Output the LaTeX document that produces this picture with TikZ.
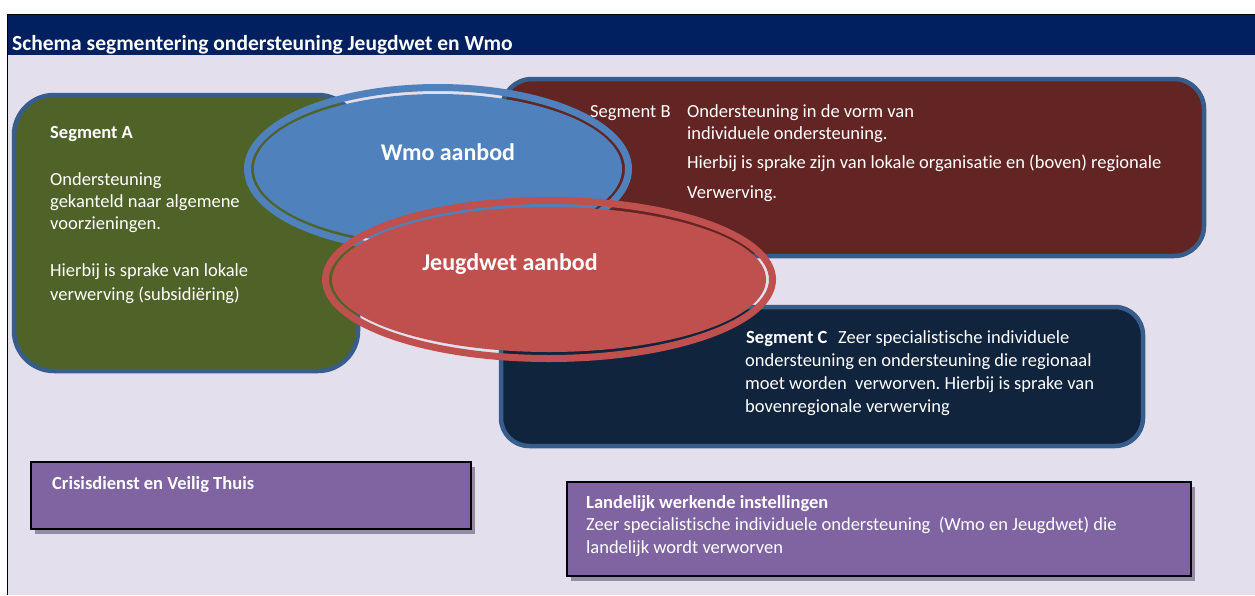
\documentclass[tikz,border=0pt]{standalone}
\usepackage{fontspec}
\setmainfont{Carlito}[Ligatures=NoCommon]
\frenchspacing
\usetikzlibrary{shapes.geometric,shadows}
\definecolor{SCHtitle}{RGB}{0,32,96}
\definecolor{SCHlav}{RGB}{228,223,236}
\definecolor{SCHedge}{RGB}{56,93,138}
\definecolor{SCHolive}{RGB}{79,98,40}
\definecolor{SCHbrown}{RGB}{99,37,35}
\definecolor{SCHnavy}{RGB}{16,36,62}
\definecolor{SCHblue}{RGB}{79,129,189}
\definecolor{SCHred}{RGB}{192,80,77}
\definecolor{SCHpurple}{RGB}{128,100,162}
\definecolor{SCHshadow}{RGB}{150,139,166}

\begin{document}
\begin{tikzpicture}[x=1pt, y=-1pt,
	segbox/.style={draw=SCHedge, line width=4.5pt, rounded corners=30pt, inner sep=0},
	ring/.style={ellipse, line width=7pt, inner sep=0},
	aanbod/.style={ellipse, inner sep=0},
	purplebox/.style={draw=black, line width=2pt, fill=SCHpurple, inner sep=0,
		general shadow={fill=SCHshadow, shadow xshift=4pt, shadow yshift=-5pt}},
	tekst/.style={anchor=base west, inner sep=0, text=white},
	vet/.style={tekst, font=\fontsize{18.5}{22}\selectfont\bfseries},
	groot/.style={anchor=base, inner sep=0, text=white, font=\fontsize{24}{28}\selectfont\bfseries},
	every node/.style={font=\fontsize{18.5}{22}\selectfont}
	]
	\useasboundingbox (0,0) rectangle (1255,595);
	\fill [white] (0,0) rectangle (1255,595);
	\fill [SCHlav] (7,14) rectangle (1255,595);
	\fill [SCHtitle] (7,14) rectangle (1255,55);
	\draw [black, line width=1pt] (7,595) -- (7,14) -- (1255,14);
	\node (titel) at (12,50) [vet, font=\fontsize{21.5}{25}\selectfont\bfseries] {Schema segmentering ondersteuning Jeugdwet en Wmo};

	% segmenten
	\node (segA) at (186,233) [segbox, rounded corners=40pt, fill=SCHolive, minimum width=344pt, minimum height=276pt] {};
	\node (segB) at (853,167.5) [segbox, fill=SCHbrown, minimum width=702pt, minimum height=177pt] {};
	\node (segC) at (822,376.5) [segbox, rounded corners=28pt, fill=SCHnavy, minimum width=642pt, minimum height=139pt] {};

	% aanbod
	\node (wmoring) at (438,169) [ring, draw=SCHblue, minimum width=381pt, minimum height=163pt] {};
	\node (wmo) at (wmoring) [aanbod, fill=SCHblue, minimum width=368pt, minimum height=150pt] {};
	\node (jwring) at (549,279.5) [ring, draw=SCHred, minimum width=447pt, minimum height=158pt] {};
	\node (jw) at (jwring) [aanbod, fill=SCHred, minimum width=434pt, minimum height=145pt] {};
	\node (wmolabel) at (448,160) [groot] {Wmo aanbod};
	\node (jwlabel) at (510,270) [groot] {Jeugdwet aanbod};

	% teksten segment A
	\node (a0) at (50,138) [vet] {Segment A};
	\node (a1) at (50,185) [tekst] {Ondersteuning};
	\node (a2) at (50,207) [tekst] {gekanteld naar algemene};
	\node (a3) at (50,229) [tekst] {voorzieningen.};
	\node (a4) at (50,276) [tekst] {Hierbij is sprake van lokale};
	\node (a5) at (50,300) [tekst] {verwerving (subsidiëring)};

	% teksten segment B
	\node (b0) at (590,117) [tekst] {Segment B};
	\node (b1) at (687,117) [tekst] {Ondersteuning in de vorm van};
	\node (b2) at (687,139) [tekst] {individuele ondersteuning.};
	\node (b3) at (687,168) [tekst] {Hierbij is sprake zijn van lokale organisatie en (boven) regionale};
	\node (b4) at (687,198) [tekst] {Verwerving.};

	% teksten segment C
	\node (c0) at (746,343) [vet] {Segment C};
	\node (c1) at (838,343) [tekst] {Zeer specialistische individuele};
	\node (c2) at (745,366) [tekst] {ondersteuning en ondersteuning die regionaal};
	\node (c3) at (745,389) [tekst] {moet worden~ verworven. Hierbij is sprake van};
	\node (c4) at (745,412) [tekst] {bovenregionale verwerving};

	% overige instellingen
	\node (crisis) at (251,495.5) [purplebox, minimum width=440pt, minimum height=67pt] {};
	\node (crisistekst) at (52,489) [vet] {Crisisdienst en Veilig Thuis};
	\node (landelijk) at (879,529) [purplebox, minimum width=624pt, minimum height=94pt] {};
	\node (l0) at (586,508) [vet] {Landelijk werkende instellingen};
	\node (l1) at (586,530) [tekst] {Zeer specialistische individuele ondersteuning~ (Wmo en Jeugdwet) die};
	\node (l2) at (586,553) [tekst] {landelijk wordt verworven};
\end{tikzpicture}
\end{document}
